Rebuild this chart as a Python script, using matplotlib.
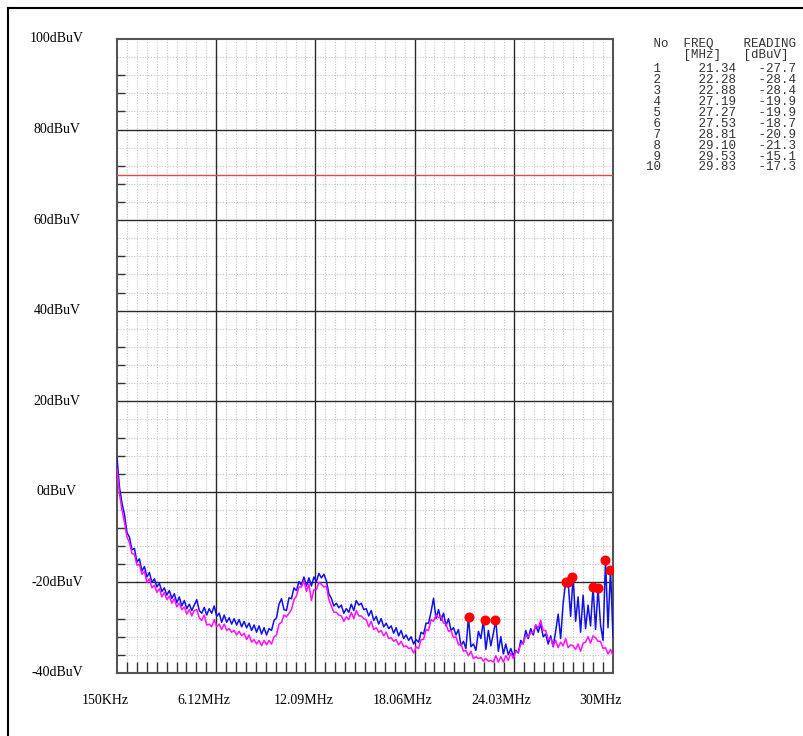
import numpy as np
import matplotlib
matplotlib.use("Agg")
import matplotlib.pyplot as plt
from matplotlib import transforms
from matplotlib.lines import Line2D

W, H = 804, 736

# sweep: 200 points from 150 kHz to 30 MHz
freq = np.linspace(0.15, 30.0, 200)

# peak trace (blue), dBuV
peak = [
    7.5, 1.0, -2.5, -5.0, -9.0, -10.0, -12.8, -12.5, -15.5, -14.8,
    -17.5, -16.5, -18.8, -17.8, -20.0, -19.2, -21.0, -20.2, -22.0, -21.2,
    -22.8, -21.8, -23.5, -22.5, -24.5, -23.2, -25.2, -24.0, -25.8, -24.8,
    -26.2, -25.0, -23.8, -26.2, -26.8, -25.5, -27.2, -25.8, -26.8, -25.2,
    -27.5, -26.8, -28.8, -27.2, -28.8, -27.8, -29.2, -28.0, -29.4, -28.2,
    -29.8, -28.6, -30.0, -29.0, -30.6, -29.4, -31.0, -29.6, -31.4, -30.0,
    -31.6, -30.2, -30.6, -28.4, -27.8, -24.8, -23.6, -26.0, -26.2, -23.4,
    -23.6, -21.2, -21.8, -19.8, -20.6, -18.8, -20.8, -19.0, -20.8, -18.8,
    -19.8, -18.0, -19.0, -18.2, -19.6, -22.5, -23.5, -25.2, -24.6, -25.6,
    -25.0, -26.8, -25.8, -26.6, -24.8, -26.2, -24.0, -25.0, -24.6, -26.0,
    -25.8, -27.4, -26.2, -28.4, -27.5, -29.2, -28.0, -29.8, -29.0, -30.2,
    -29.6, -31.2, -30.0, -31.8, -30.6, -32.4, -31.6, -32.8, -32.0, -33.6,
    -32.6, -33.2, -31.0, -31.4, -29.0, -29.0, -26.5, -23.5, -28.0, -26.0,
    -28.4, -26.8, -29.6, -28.0, -30.6, -30.0, -31.6, -30.4, -34.0, -33.0,
    -34.6, -27.7, -34.2, -33.6, -35.0, -30.8, -32.4, -28.4, -34.8, -30.6,
    -34.0, -31.2, -28.4, -35.2, -32.0, -35.8, -33.6, -36.0, -34.6, -36.2,
    -35.0, -35.6, -32.8, -33.6, -30.6, -32.4, -30.2, -31.6, -29.4, -31.0,
    -29.2, -32.0, -31.4, -33.6, -31.8, -34.2, -30.8, -27.0, -32.4, -24.6,
    -19.9, -19.9, -27.5, -18.7, -28.6, -23.2, -31.0, -22.8, -30.2, -25.0,
    -29.6, -20.9, -30.4, -21.3, -29.4, -32.8, -15.1, -30.0, -17.3, -32.0,
]

# average trace (magenta)
avg = [
    5.0, -0.5, -4.0, -6.8, -10.0, -11.2, -13.6, -13.8, -16.2, -16.0,
    -18.2, -17.6, -20.0, -19.2, -21.2, -20.6, -22.2, -21.4, -23.2, -22.2,
    -23.8, -23.0, -24.6, -23.6, -25.4, -24.6, -26.0, -25.4, -27.0, -26.0,
    -27.4, -26.2, -26.0, -27.8, -28.4, -27.2, -29.4, -29.2, -29.8, -28.2,
    -29.8, -29.2, -30.4, -29.2, -30.6, -30.2, -31.0, -30.6, -31.6, -30.8,
    -31.8, -31.2, -32.6, -31.6, -33.2, -32.6, -33.6, -32.8, -34.0, -32.8,
    -33.8, -32.8, -33.6, -32.0, -31.6, -29.2, -28.8, -27.2, -27.6, -26.8,
    -26.0, -23.8, -23.0, -21.0, -21.0, -19.6, -22.0, -20.4, -24.0, -21.6,
    -21.6, -20.0, -20.4, -21.0, -20.8, -23.8, -25.2, -26.6, -26.6, -27.2,
    -27.4, -28.6, -27.6, -28.2, -26.6, -28.0, -26.2, -27.4, -27.4, -28.0,
    -28.2, -29.8, -28.6, -30.4, -30.0, -31.0, -30.6, -31.8, -31.0, -32.4,
    -32.2, -33.0, -32.6, -33.8, -33.0, -34.2, -34.0, -34.6, -34.4, -35.6,
    -34.2, -34.6, -32.6, -32.6, -30.4, -30.6, -28.2, -28.6, -27.2, -27.8,
    -27.4, -29.0, -29.2, -30.8, -30.6, -32.2, -32.0, -33.8, -33.6, -35.2,
    -35.0, -36.2, -35.2, -36.8, -36.4, -36.8, -36.6, -37.4, -36.8, -37.4,
    -37.2, -37.6, -36.2, -37.6, -36.4, -37.6, -36.2, -37.2, -35.6, -36.8,
    -35.2, -35.4, -33.6, -33.4, -31.8, -32.0, -31.2, -31.0, -29.4, -30.0,
    -28.4, -30.6, -30.6, -32.6, -32.4, -34.0, -32.8, -34.4, -33.2, -34.0,
    -32.4, -34.4, -33.8, -34.0, -34.8, -33.6, -35.2, -33.4, -33.2, -32.0,
    -33.4, -31.8, -32.2, -33.0, -33.0, -34.6, -34.4, -35.8, -34.8, -36.2,
]

limit_level = 70.0

# marker table
mk_no = list(range(1, 11))
mk_freq = [21.34, 22.28, 22.88, 27.19, 27.27, 27.53, 28.81, 29.10, 29.53, 29.83]
mk_read = [-27.7, -28.4, -28.4, -19.9, -19.9, -18.7, -20.9, -21.3, -15.1, -17.3]

x_major = [0.15, 6.12, 12.09, 18.06, 24.03, 30.0]
x_labels = ["150KHz", "6.12MHz", "12.09MHz", "18.06MHz", "24.03MHz", "30MHz"]
y_major = [-40, -20, 0, 20, 40, 60, 80, 100]
y_labels = ["-40dBuV", "-20dBuV", "0dBuV", "20dBuV", "40dBuV", "60dBuV", "80dBuV", "100dBuV"]

serif = ["Liberation Serif", "DejaVu Serif"]
mono = ["Liberation Mono", "DejaVu Sans Mono"]

fig = plt.figure(figsize=(W / 100, H / 100), dpi=100)
ax = fig.add_axes([117 / W, 1 - 673 / H, 496 / W, 634 / H])
ax.set_xlim(0.15, 30.0)
ax.set_ylim(-40, 100)

# grid: dotted minor lines, solid major lines
step_x = (30.0 - 0.15) / 50
minor_x = [0.15 + step_x * k for k in range(1, 50) if k % 10 != 0]
minor_y = [v for v in range(-36, 100, 4) if v % 20 != 0]
for x in minor_x:
    ax.axvline(x, color="#c4c4c4", lw=0.8, ls=(0, (1, 1.5)), zorder=1)
for y in minor_y:
    ax.axhline(y, color="#c4c4c4", lw=0.8, ls=(0, (1, 1.5)), zorder=1)
for x in x_major[1:-1]:
    ax.axvline(x, color="#2a2a2a", lw=1.0, zorder=2)
for y in y_major[1:-1]:
    ax.axhline(y, color="#2a2a2a", lw=1.0, zorder=2)

# ticks: inward, bottom every minor step, left at +4/+8/+12 above each major
ax.set_xticks(x_major)
ax.set_xticklabels([])
ax.set_yticks(y_major)
ax.set_yticklabels([])
ax.set_xticks(minor_x, minor=True)
ax.set_yticks([v for v in minor_y if v % 20 != 16], minor=True)
ax.tick_params(which="major", length=0)
ax.tick_params(axis="x", which="minor", direction="in", length=8, width=1.0, color="#333333")
ax.tick_params(axis="y", which="minor", direction="in", length=5.5, width=1.0, color="#333333")
for s in ax.spines.values():
    s.set_color("#555555")
    s.set_linewidth(1.5)

ax.axhline(limit_level, color="#e04a4a", lw=1.0, zorder=3)
ax.plot(freq, peak, color="#1010e8", lw=1.1, zorder=4)
ax.plot(freq, avg, color="#ff10ff", lw=1.1, zorder=4)
ax.plot(mk_freq, mk_read, "o", color="#ff0000", ms=6.2, mec="#ff0000", zorder=6)

# axis labels as free text like the receiver printout
xlab_tf = transforms.offset_copy(ax.get_xaxis_transform(), fig=fig, x=-12, y=-27, units="dots")
for x, lab in zip(x_major, x_labels):
    ax.text(x, 0, lab, transform=xlab_tf, ha="center", va="center",
            fontsize=10, family=serif, clip_on=False)
ylab_tf = transforms.blended_transform_factory(fig.transFigure, ax.transData)
for y, lab in zip(y_major, y_labels):
    ax.text(57 / W, y, lab, transform=ylab_tf, ha="center", va="center",
            fontsize=10, family=serif, clip_on=False)

# marker table, top right
col_x = 646 / W
def trow(ypx, s):
    fig.text(col_x, 1 - ypx / H, s, ha="left", va="center", fontsize=9,
             family=mono, color="#333333")

trow(44, " No  FREQ    READING")
trow(55, "     [MHz]   [dBuV]")
for k, (n, f, r) in enumerate(zip(mk_no, mk_freq, mk_read)):
    trow(69.3 + 10.9 * k, f"{n:>2}{f:>10.2f}{r:>8.1f}")

# page frame (only top and left edges fall inside the image)
fig.add_artist(Line2D([8 / W, 1.0], [1 - 8 / H, 1 - 8 / H], color="black", lw=1.5))
fig.add_artist(Line2D([8 / W, 8 / W], [0.0, 1 - 8 / H], color="black", lw=1.5))

fig.savefig("out.png", dpi=100)
